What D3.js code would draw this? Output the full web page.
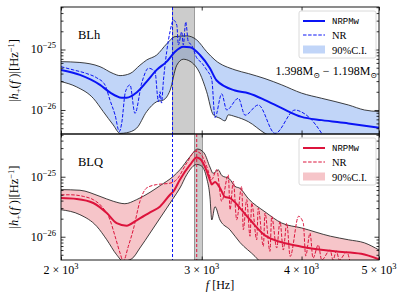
<!DOCTYPE html>
<html>
<head>
<meta charset="utf-8">
<script src="https://cdn.jsdelivr.net/npm/d3@7"></script>
<style>
body { margin: 0; background: #fff; }
</style>
</head>
<body>
<div id="chart"></div>
<script>
// amplitudes are in units of 1e-26 Hz^-1, frequencies in Hz
const freqTicks = [2000, 3000, 4000, 5000];
const ampMajor = [1, 10];
const ampMajorLabels = ['\u221226', '\u221225'];

const blhMedian = [[2000,4.6],[2112,3.8],[2238,2.6],[2303,1.95],[2382,1.6],[2416,1.6],[2487,1.95],[2560,2.95],[2635,4.6],[2712,6.3],[2778,9.2],[2845,11.1],[2900,10.9],[2985,8.1],[3072,4.9],[3130,3.1],[3302,2.1],[3432,1.89],[3600,1.46],[3778,1.07],[4000,0.77],[4239,0.68],[4578,0.60],[5000,0.51]];
const blhUpper = [[2000,6.3],[2112,6.1],[2238,5.2],[2325,4.0],[2371,3.7],[2440,4.0],[2511,5.5],[2560,6.7],[2635,8.1],[2712,12.4],[2778,16.3],[2873,16.8],[2957,14.4],[3043,9.2],[3117,6.7],[3302,4.6],[3432,4.0],[3600,3.3],[3778,2.6],[4000,1.9],[4239,1.56],[4578,1.21],[4795,1.0],[5000,0.94]];
const blhLower = [[2000,2.95],[2093,2.4],[2195,1.56],[2259,0.94],[2325,0.565],[2371,0.41],[2416,0.42],[2487,0.50],[2560,0.94],[2635,1.37],[2686,1.46],[2738,2.1],[2792,5.5],[2845,6.9],[2900,6.4],[2985,4.0],[3043,2.0],[3102,0.83],[3162,0.73],[3208,0.66],[3239,0.83],[3302,0.78],[3432,0.64],[3600,0.41],[3800,0.3],[4200,0.25],[5000,0.18]];
const blhNR = [[2000,5.2],[2072,4.6],[2154,4.0],[2217,3.4],[2270,2.6],[2303,1.46],[2337,0.83],[2366,0.44],[2382,0.6],[2408,2.0],[2440,2.6],[2475,0.88],[2524,2.8],[2574,4.9],[2622,4.3],[2648,1.37],[2661,2.0],[2672,1.3],[2686,2.95],[2712,9.2],[2738,19.6],[2765,30.7],[2792,25.4],[2805,11.9],[2832,19.6],[2845,11.9],[2865,28.6],[2886,13.4],[2913,11.9],[2957,7.3],[3000,6.0],[3043,4.6],[3088,3.2],[3117,0.75],[3178,1.85],[3224,1.0],[3334,1.56],[3399,0.82],[3531,1.21],[3706,0.41],[3926,1.0],[3990,0.94],[4099,0.73],[4239,0.41],[4300,0.3]];

const blqMedian = [[2000,4.4],[2093,4.25],[2195,3.65],[2282,2.48],[2348,1.69],[2416,1.53],[2487,1.88],[2585,2.55],[2661,3.2],[2738,5.0],[2765,5.7],[2818,9.0],[2900,15.7],[2957,21.0],[2990,19.5],[3043,12.5],[3072,8.8],[3088,7.4],[3117,8.2],[3162,6.5],[3208,4.6],[3255,4.4],[3350,3.0],[3450,1.9],[3620,1.0],[4000,0.68],[4400,0.57],[4750,0.52],[5000,0.42]];
const blqUpper = [[2000,6.1],[2112,5.95],[2238,4.7],[2325,3.9],[2404,3.55],[2487,4.15],[2585,5.5],[2661,7.1],[2765,10.2],[2818,13.1],[2900,21.5],[2965,28.9],[3020,25.0],[3072,14.5],[3100,11.4],[3147,13.0],[3178,10.5],[3250,9.2],[3302,6.9],[3350,6.4],[3432,4.3],[3600,2.6],[3778,1.69],[4000,1.4],[4347,1.02],[4578,0.89],[4795,0.79],[5000,0.6]];
const blqLower = [[2000,2.82],[2112,2.33],[2217,1.49],[2282,0.89],[2348,0.50],[2393,0.39],[2453,0.43],[2511,0.65],[2585,1.15],[2661,2.05],[2765,4.4],[2818,6.5],[2873,10.8],[2957,16.0],[3000,15.0],[3043,9.5],[3072,4.6],[3088,1.9],[3117,3.16],[3162,1.9],[3255,1.3],[3350,0.8],[3498,0.47],[3545,0.39],[3700,0.3],[5000,0.2]];
const blqNR = [[2000,5.0],[2053,5.0],[2133,4.7],[2195,4.14],[2249,3.2],[2303,1.92],[2337,1.02],[2371,0.535],[2393,0.39],[2428,0.69],[2463,1.31],[2511,3.9],[2560,6.5],[2635,7.4],[2738,7.8],[2792,9.0],[2873,16.9],[2944,26.5],[2985,24.8],[3043,14.9],[3088,9.0],[3132,13.1],[3178,3.9],[3239,10.8],[3255,2.82],[3286,8.4],[3318,1.92],[3366,6.9],[3382,1.31],[3415,4.14],[3448,1.02],[3465,3.65],[3515,0.89],[3531,3.0],[3583,0.69],[3600,2.48],[3652,0.57],[3670,2.19],[3724,0.65],[3759,1.8],[3795,0.6],[3833,1.69],[3871,0.47],[3966,2.19],[4020,1.69],[4048,0.48],[4099,1.15],[4134,0.44],[4198,0.73],[4239,0.41],[4343,0.6],[4380,0.41],[4422,0.58],[4460,0.41],[4556,0.555],[4600,0.38]];

// merger frequency bands and markers
const blhBand = [2758, 2937];
const blqBand = [2937, 3005];
const blhFmrg = 2758;
const blqFmrg = 2957;

const serif = '"Liberation Serif", "DejaVu Serif", "Times New Roman", serif';
const mono = '"Liberation Mono", "DejaVu Sans Mono", monospace';

const panels = [
    { name: 'BLh', median: blhMedian, upper: blhUpper, lower: blhLower, nr: blhNR, band: blhBand,
      color: '#0a14f5', fill: '#c1d5f8', top: 7, height: 127, domain: [Math.pow(10, -0.397), Math.pow(10, 1.7025)], mass: true },
    { name: 'BLQ', median: blqMedian, upper: blqUpper, lower: blqLower, nr: blqNR, band: blqBand,
      color: '#dc143c', fill: '#f6c5c9', top: 134, height: 126, domain: [Math.pow(10, -0.388), Math.pow(10, 1.712)], mass: false }
];

const margin = { left: 61, right: 28 };
const width = 407 - margin.left - margin.right;

const svg = d3.select('#chart').append('svg')
    .attr('width', 407)
    .attr('height', 301);

const x = d3.scaleLog().domain([2000, 5000]).range([0, width]);

function minorTicks(domain) {
    const out = [];
    for (let e = -2; e <= 2; e++) {
        for (let m = 2; m <= 9; m++) {
            const v = m * Math.pow(10, e);
            if (v > domain[0] && v < domain[1]) out.push(v);
        }
    }
    return out;
}

panels.forEach((p, i) => {
    const g = svg.append('g').attr('transform', `translate(${margin.left},${p.top})`);
    const y = d3.scaleLog().domain(p.domain).range([p.height, 0]);

    g.append('clipPath').attr('id', 'clip' + i)
        .append('rect').attr('width', width).attr('height', p.height);
    const plot = g.append('g').attr('clip-path', `url(#clip${i})`);

    const line = d3.line()
        .x(d => x(d[0]))
        .y(d => y(d[1]))
        .curve(d3.curveMonotoneX);

    // 90% C.I. region
    const up = line(p.upper);
    const lo = line(p.lower.slice().reverse());
    plot.append('path')
        .attr('d', up + 'L' + lo.slice(1) + 'Z')
        .attr('fill', p.fill)
        .attr('stroke', 'none');

    // merger band
    plot.append('rect')
        .attr('x', x(p.band[0]))
        .attr('width', x(p.band[1]) - x(p.band[0]))
        .attr('y', 0)
        .attr('height', p.height)
        .attr('fill', '#7f7f7f')
        .attr('fill-opacity', 0.4)
        .attr('stroke', '#666')
        .attr('stroke-width', 0.6);

    [p.upper, p.lower].forEach(b => {
        plot.append('path')
            .attr('d', line(b))
            .attr('fill', 'none')
            .attr('stroke', '#111')
            .attr('stroke-width', 0.8);
    });

    plot.append('path')
        .attr('d', line(p.nr))
        .attr('fill', 'none')
        .attr('stroke', p.color)
        .attr('stroke-width', 1)
        .attr('stroke-dasharray', '3.5,1.6');

    plot.append('path')
        .attr('d', line(p.median))
        .attr('fill', 'none')
        .attr('stroke', p.color)
        .attr('stroke-width', 2);

    // vertical markers
    plot.append('line')
        .attr('x1', x(blhFmrg)).attr('x2', x(blhFmrg))
        .attr('y1', 0).attr('y2', p.height)
        .attr('stroke', '#0a14f5')
        .attr('stroke-width', 1)
        .attr('stroke-dasharray', '3,2');
    if (i === 1) {
        plot.append('line')
            .attr('x1', x(blqFmrg)).attr('x2', x(blqFmrg))
            .attr('y1', 0).attr('y2', p.height)
            .attr('stroke', '#dc143c')
            .attr('stroke-width', 1)
            .attr('stroke-dasharray', '3,2');
    }

    // axes, ticks pointing inward
    const minors = minorTicks(p.domain);
    const axes = [
        [d3.axisLeft(y).tickValues(ampMajor).tickSize(-4.5), 0],
        [d3.axisLeft(y).tickValues(minors).tickSize(-2.5), 0],
        [d3.axisRight(y).tickValues(ampMajor).tickSize(-4.5), width],
        [d3.axisRight(y).tickValues(minors).tickSize(-2.5), width]
    ];
    axes.forEach(([ax, tx]) => {
        g.append('g')
            .attr('transform', `translate(${tx},0)`)
            .call(ax.tickFormat(''))
            .call(s => s.select('.domain').remove())
            .call(s => s.selectAll('line').attr('stroke', '#000').attr('stroke-width', 0.8));
    });
    g.append('g')
        .attr('transform', `translate(0,${p.height})`)
        .call(d3.axisBottom(x).tickValues(freqTicks).tickSize(-3.5).tickFormat(''))
        .call(s => s.select('.domain').remove())
        .call(s => s.selectAll('line').attr('stroke', '#000').attr('stroke-width', 0.8));
    g.append('g')
        .call(d3.axisTop(x).tickValues(freqTicks).tickSize(-3.5).tickFormat(''))
        .call(s => s.select('.domain').remove())
        .call(s => s.selectAll('line').attr('stroke', '#000').attr('stroke-width', 0.8));

    // y tick labels 10^-n
    ampMajor.forEach((v, k) => {
        const t = g.append('text')
            .attr('x', -5)
            .attr('y', y(v) + 4)
            .attr('text-anchor', 'end')
            .style('font-size', '12px');
        t.append('tspan').text('10');
        t.append('tspan').attr('dy', -5).style('font-size', '8.5px').text(ampMajorLabels[k]);
    });

    g.append('rect')
        .attr('width', width)
        .attr('height', p.height)
        .attr('fill', 'none')
        .attr('stroke', '#000')
        .attr('stroke-width', 0.9);

    // panel name
    g.append('text')
        .attr('x', 17)
        .attr('y', 32)
        .style('font-size', '12.5px')
        .text(p.name);

    // y label
    const yl = g.append('text')
        .attr('transform', `translate(${-43},${p.height / 2}) rotate(-90)`)
        .attr('text-anchor', 'middle')
        .style('font-size', '12.5px');
    yl.append('tspan').text('|');
    yl.append('tspan').style('font-style', 'italic').text('h');
    yl.append('tspan').attr('dy', 2.5).style('font-size', '8.5px').text('+');
    yl.append('tspan').attr('dy', -2.5).text('(');
    yl.append('tspan').style('font-style', 'italic').text('f ');
    yl.append('tspan').text(')|[Hz');
    yl.append('tspan').attr('dy', -4.5).style('font-size', '8.5px').text('\u22121');
    yl.append('tspan').attr('dy', 4.5).text(']');

    // legend
    const lg = g.append('g').attr('transform', 'translate(238,4)');
    lg.append('rect')
        .attr('width', 77).attr('height', 47)
        .attr('rx', 2)
        .attr('fill', '#fff').attr('fill-opacity', 0.85)
        .attr('stroke', '#d0d0d0').attr('stroke-width', 0.8);
    lg.append('line').attr('x1', 4).attr('x2', 26).attr('y1', 10).attr('y2', 10)
        .attr('stroke', p.color).attr('stroke-width', 2);
    lg.append('line').attr('x1', 4).attr('x2', 26).attr('y1', 24).attr('y2', 24)
        .attr('stroke', p.color).attr('stroke-width', 1).attr('stroke-dasharray', '3.5,1.6');
    lg.append('rect').attr('x', 4).attr('y', 34.5).attr('width', 22).attr('height', 8)
        .attr('fill', p.fill);
    lg.append('text').attr('class', 'tt').attr('x', 33).attr('y', 13)
        .style('font-size', '9px').text('NRPMw');
    lg.append('text').attr('x', 33).attr('y', 28)
        .style('font-size', '10.5px').text('NR');
    lg.append('text').attr('x', 33).attr('y', 42.5)
        .style('font-size', '10.5px').text('90%C.I.');

    if (p.mass) {
        const mt = g.append('text')
            .attr('x', 316)
            .attr('y', 68)
            .attr('text-anchor', 'end')
            .style('font-size', '12px');
        mt.append('tspan').text('1.398M');
        mt.append('tspan').attr('dy', 3).style('font-size', '8px').text('\u2299');
        mt.append('tspan').attr('dy', -3).text(' \u2212 1.198M');
        mt.append('tspan').attr('dy', 3).style('font-size', '8px').text('\u2299');
    }
});

// x tick labels and label
freqTicks.forEach(f => {
    const t = svg.append('text')
        .attr('x', margin.left + x(f))
        .attr('y', 274)
        .attr('text-anchor', 'middle')
        .style('font-size', '12px');
    t.append('tspan').text(`${f / 1000} \u00d7 10`);
    t.append('tspan').attr('dy', -5).style('font-size', '8.5px').text('3');
});

const xl = svg.append('text')
    .attr('x', margin.left + width / 2)
    .attr('y', 289)
    .attr('text-anchor', 'middle')
    .style('font-size', '12px');
xl.append('tspan').style('font-style', 'italic').text('f');
xl.append('tspan').text(' [Hz]');

svg.selectAll('text').style('font-family', serif).attr('fill', '#000');
svg.selectAll('text.tt').style('font-family', mono);
</script>
</body>
</html>
